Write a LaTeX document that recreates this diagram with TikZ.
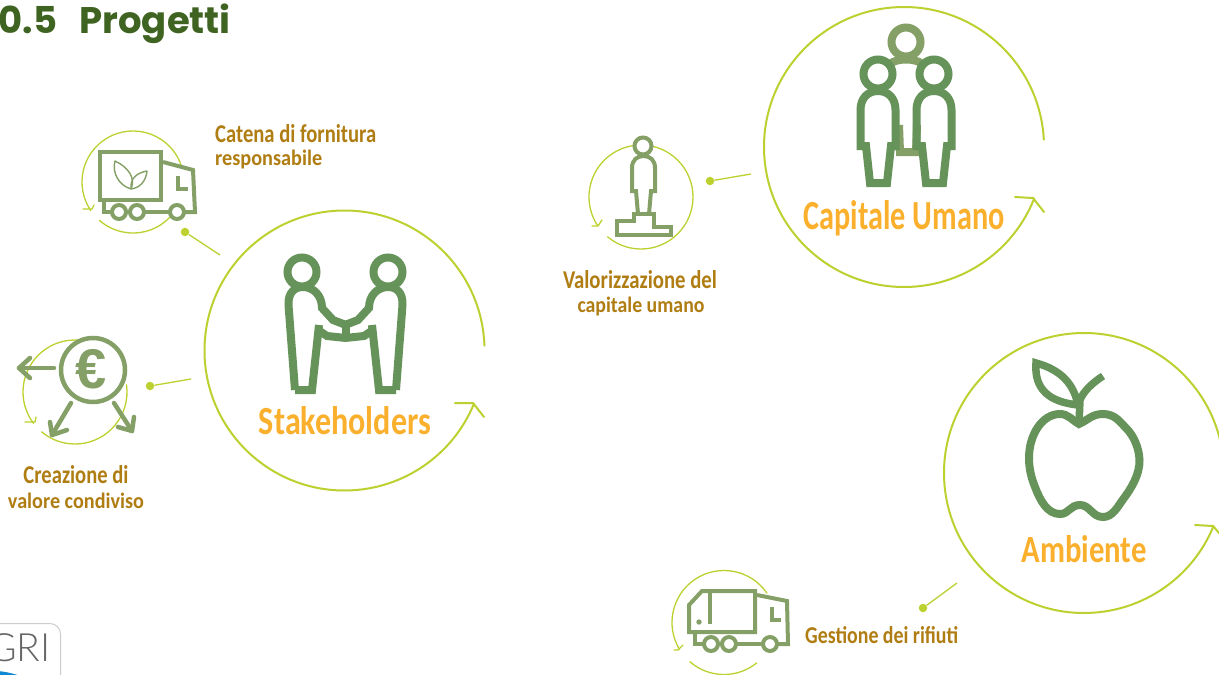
\documentclass[tikz,border=0pt]{standalone}
\usepackage{fontspec}
\usepackage{graphicx}
\setmainfont{Carlito}
\newfontfamily\headfont{Poppins}
\newfontfamily\griFont{Lato Light}
\newfontfamily\euroFont{Liberation Sans}
\definecolor{lime}{HTML}{BCD12F}
\definecolor{figdark}{HTML}{66935A}
\definecolor{figlight}{HTML}{85A067}
\definecolor{orangetxt}{HTML}{FBB02D}
\definecolor{browntxt}{HTML}{B07D12}
\definecolor{headgreen}{HTML}{3F6321}
\newcommand\ringarc[6][]{\draw[#1] ({#2+#4*cos(#5)},{#3+#4*sin(#5)}) arc[start angle=#5,end angle=#6,radius=#4];}
\newcommand\fitbig[3]{\resizebox{#1pt}{#2pt}{\bfseries #3}}
\tikzset{
 bigring/.style={draw=lime,line width=2pt,line cap=round},
 smallring/.style={draw=lime,line width=1.3pt,line cap=round},
 figA/.style={draw=figdark,line width=8pt,line join=miter},
 figB/.style={draw=figlight,line width=8pt},
 iconline/.style={draw=figlight,line width=4pt,line join=miter},
 leaf/.style={draw=figlight,line width=1.4pt,line join=round},
 arrowline/.style={draw=figlight,line width=4.5pt,line cap=round,line join=round},
 dotmark/.style={circle,fill=lime,inner sep=0pt,minimum size=8.5pt},
 lead/.style={draw=lime,line width=1.3pt},
 big/.style={inner sep=0pt,anchor=base,text=orangetxt},
 small/.style={inner sep=0pt,anchor=base,text=browntxt},
 smallw/.style={inner sep=0pt,anchor=base west,text=browntxt},
}
\begin{document}
\begin{tikzpicture}[x=1pt,y=1pt,yscale=-1]
\useasboundingbox (0,0) rectangle (1219,675);
\clip (0,0) rectangle (1219,675);
\fill[white] (0,0) rectangle (1219,675);

% heading
\node[inner sep=0pt,anchor=base east,text=headgreen] (title) at (231,33) {\headfont\bfseries\fontsize{37}{40}\selectfont 0.5\hspace{22pt}Progetti};

% GRI
\draw[draw=black!20,line width=1pt] (-5,623.5) -- (50,623.5) arc[start angle=-90,end angle=0,radius=10.5] -- (60.5,680);
\node[inner sep=0pt,anchor=base east,text=black!60] (gri) at (51,661) {\griFont\fontsize{39}{40}\selectfont GRI};
\fill[cyan!70!blue] (-2,671) .. controls (8,672) and (14,674) .. (21,676) -- (-2,676) -- cycle;

% Stakeholders
\ringarc[bigring]{344.5}{350.5}{140}{-2}{-337.5}
\draw[bigring] (455,403) -- (473,403) -- (484,417);
\begin{scope}[figA]
\draw (302,272) circle[radius=14.5];
\draw (388,272) circle[radius=14.5];
\draw (295,390) -- (312,390) -- (319,325);
\draw (295,390) -- (288.5,305) .. controls (288,292) and (295,287) .. (303,287) .. controls (313,287) and (322,295) .. (322,308) -- (333,320) -- (346,325);
\draw (318,330) -- (327,336) -- (346,338);
\draw (396,390) -- (379,390) -- (372,325);
\draw (396,390) -- (402.5,305) .. controls (403,292) and (396,287) .. (388,287) .. controls (378,287) and (369,295) .. (369,308) -- (358,320) -- (345,325);
\draw (373,330) -- (364,336) -- (345,338);
\draw (345.5,322) -- (345.5,341);
\end{scope}
\draw[white,line width=1.2pt] (316,314) -- (331,327) -- (340,330);
\draw[white,line width=1.2pt] (375,314) -- (360,327) -- (351,330);
\node[big] (stake) at (345,434.5) {\fitbig{172}{28}{Stakeholders}};

% truck 1
\ringarc[smallring]{133}{182}{51}{-16.7}{-214}
\ringarc[smallring]{133}{182}{51}{131}{43}
\draw[smallring] (83,209) -- (92,209) -- (94,205);
\begin{scope}[iconline]
\draw (100,152) rectangle (161,200);
\draw (163,162) -- (193,170) -- (195,212) -- (184,212);
\draw (104,202) -- (104,212) -- (112,212);
\draw (126,212) -- (130,212);
\draw (144,212) -- (169,212);
\draw (119,212) circle[radius=7];
\draw (137,212) circle[radius=7];
\draw (177,212) circle[radius=7];
\draw (178,176) -- (178,189) -- (188,189);
\end{scope}
\draw[leaf] (131,189) .. controls (118,185) and (112,172) .. (115,161) .. controls (128,167) and (136,178) .. (131,189);
\draw[leaf] (131,189) .. controls (130,178) and (137,173) .. (147,171) .. controls (146,182) and (139,188) .. (131,189);
\node[dotmark] (d1) at (185,232) {};
\coordinate (e1) at (220,255);
\draw[lead] (d1) -- (e1);
\node[smallw] (cat1) at (215,142) {\fitbig{161}{18}{Catena di fornitura}};
\node[smallw] (cat2) at (215,165) {\fitbig{107}{15.5}{responsabile}};

% euro
\ringarc[smallring]{75}{392}{52}{-84}{-217}
\ringarc[smallring]{75}{392}{52}{130}{-8}
\draw[smallring] (25,422) -- (35,422) -- (36,417);
\node[circle,draw=figlight,line width=4.5pt,fill=white,minimum size=64pt,inner sep=0pt] (eur) at (93,370) {};
\node[inner sep=0pt,text=figlight] (eursym) at (91,369) {\euroFont\bfseries\fontsize{56}{56}\selectfont €};
\begin{scope}[arrowline]
\draw (54,368) -- (19,368);
\draw (30,358) -- (19,368) -- (30,378);
\draw (71,403) -- (52,435);
\draw (50,422) -- (52,435) -- (67,430);
\draw (114,403) -- (132,431);
\draw (134,417) -- (132,431) -- (118,427);
\end{scope}
\node[dotmark] (d2) at (150,386) {};
\coordinate (e2) at (191,379);
\draw[lead] (d2) -- (e2);
\node[small] (cr1) at (76,483) {\fitbig{105}{18}{Creazione di}};
\node[small] (cr2) at (76,508) {\fitbig{136}{15.5}{valore condiviso}};

% Capitale umano
\ringarc[bigring]{904}{147}{140}{-3}{-338.4}
\draw[bigring] (1015,197) -- (1033,198) -- (1044,212);
\begin{scope}[figB]
\draw (906,42) circle[radius=14.5];
\draw (890,64) .. controls (896,58) and (916,58) .. (922,64);
\draw (899,125) -- (900,152) -- (916,152) -- (917,125);
\end{scope}
\foreach \dx in {0,56}{
\begin{scope}[xshift=\dx pt,figA]
\draw (878,74) circle[radius=14.5];
\draw (866,146) -- (860.5,146) -- (860.5,110) .. controls (860.5,98) and (868,91) .. (878,91) .. controls (888,91) and (895.5,98) .. (895.5,110) -- (895.5,146) -- (891,146) -- (887,183) -- (870,183) -- cycle;
\end{scope}}
\node[big] (cap) at (904,229.5) {\fitbig{201}{29}{Capitale Umano}};

% pedestal
\ringarc[smallring]{641}{197}{52}{130}{-213}
\draw[smallring] (592,226) -- (598,226) -- (602,220);
\begin{scope}[iconline]
\draw[fill=white] (643,146) circle[radius=8.5];
\draw[fill=white] (636,191) -- (632,191) -- (632,168) .. controls (632,160) and (637,156) .. (643.5,156) .. controls (650,156) and (655,160) .. (655,168) -- (655,191) -- (651,191) -- (649,214) -- (638,214) -- cycle;
\draw[fill=white] (617,221) -- (634,221) -- (634,214) -- (654,214) -- (654,227) -- (671,227) -- (671,235) -- (617,235) -- cycle;
\end{scope}
\node[dotmark] (d3) at (710,181) {};
\coordinate (e3) at (751,174);
\draw[lead] (d3) -- (e3);
\node[small] (va1) at (640,288) {\fitbig{154}{18}{Valorizzazione del}};
\node[small] (va2) at (641,312) {\fitbig{127}{15.5}{capitale umano}};

% Ambiente
\ringarc[bigring]{1084}{473}{140}{-2}{-337.7}
\draw[bigring] (1195,525) -- (1213,526) -- (1226,541);
\draw[figA,line width=8pt] (1079,424) .. controls (1088,420) and (1092,414) .. (1103,414) .. controls (1115,414) and (1120,422) .. (1126,428) .. controls (1134,436) and (1139,448) .. (1139.5,460) .. controls (1140,475) and (1130,490) .. (1124,498) .. controls (1118,506) and (1113,517) .. (1103,517) .. controls (1092,517) and (1090,505) .. (1080,505) .. controls (1070,505) and (1069,514) .. (1060,514) .. controls (1047,514) and (1040,500) .. (1035,487) .. controls (1031,477) and (1029,468) .. (1029,458) .. controls (1029,435) and (1042,414) .. (1060,414) .. controls (1068,414) and (1072,420) .. (1079,424) -- cycle;
\draw[figA,line width=7.5pt] (1079,424) -- (1080,400) .. controls (1083,392) and (1092,383) .. (1103,376);
\draw[figA,line width=7.5pt] (1036,363) .. controls (1062,370) and (1074,385) .. (1078,405) .. controls (1050,402) and (1034,390) .. (1036,363) -- cycle;
\node[big] (amb) at (1084,562) {\fitbig{125}{27}{Ambiente}};

% truck 2
\ringarc[smallring]{724}{622.5}{52}{-34.5}{-211}
\ringarc[smallring]{724}{622.5}{52}{131}{51}
\draw[smallring] (674,650) -- (678,650) -- (683,645);
\begin{scope}[iconline]
\draw[fill=white] (689,605) -- (702,591) -- (755,591) -- (755,632) -- (689,632) -- cycle;
\draw (757,595) -- (787,601) -- (788,644) -- (778,644);
\draw (695,634) -- (695,644) -- (704,644);
\draw (718,644) -- (722,644);
\draw (736,644) -- (763,644);
\draw (711,644) circle[radius=7];
\draw (729,644) circle[radius=7];
\draw (770,644) circle[radius=7];
\draw (772,607) -- (772,620) -- (781,620);
\draw (710,591) -- (710,624);
\end{scope}
\fill[figlight] (699,622) circle[radius=2.7];
\node[dotmark] (d4) at (923,608) {};
\coordinate (e4) at (957,583);
\draw[lead] (d4) -- (e4);
\node[smallw] (ge) at (805,643) {\fitbig{153}{17}{Gestione dei rifiuti}};
\end{tikzpicture}
\end{document}
